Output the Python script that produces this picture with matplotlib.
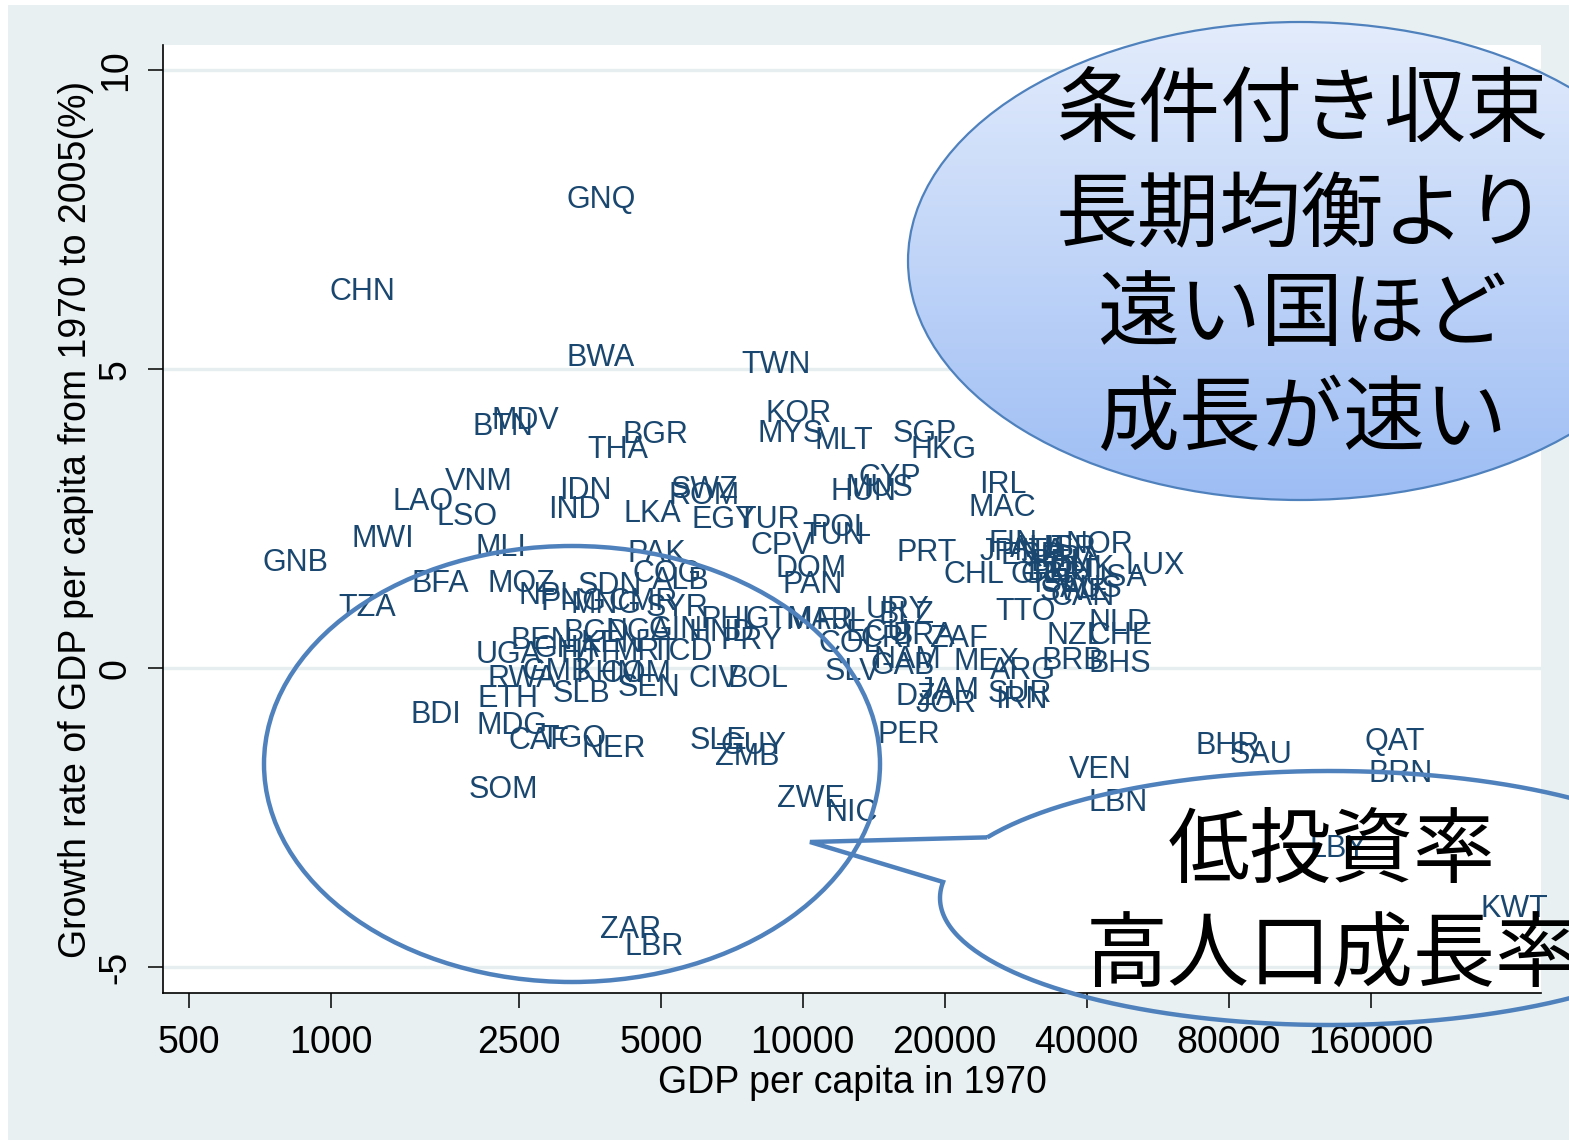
import numpy as np
import matplotlib
matplotlib.use("Agg")
import matplotlib.pyplot as plt
from matplotlib.patches import Ellipse, Rectangle, PathPatch
from matplotlib.path import Path
from matplotlib.colors import LinearSegmentedColormap

# country codes, GDP per capita in 1970, growth rate 1970-2005 (%)
codes = ["GNQ", "CHN", "BWA", "TWN", "KOR", "MYS", "MLT", "SGP", "HKG", "BTN",
         "MDV", "BGR", "THA", "VNM", "LAO", "LSO", "IDN", "IND", "SWZ", "ROM",
         "LKA", "EGY", "TUR", "POL", "TUN", "CPV", "HUN", "MUS", "CYP", "IRL",
         "MAC", "PRT", "MWI", "MLI", "GNB", "PAK", "COG", "ALB", "DOM", "PAN",
         "CHL", "FIN", "JPN", "NOR", "LUX", "USA", "CAN", "TTO", "NLD", "NZL",
         "CHE", "BRB", "BHS", "ARG", "MEX", "SUR", "IRN", "JAM", "DZA", "JOR",
         "PER", "URY", "BLZ", "TZA", "BFA", "MOZ", "NPL", "SDN", "PNG", "MNG",
         "CMR", "SYR", "PHL", "GTM", "MAR", "FJI", "BGD", "NGA", "GIN", "HND",
         "PRY", "BEN", "GHA", "KEN", "MRT", "TCD", "UGA", "HTI", "RWA", "GMB",
         "COM", "SEN", "CIV", "BOL", "SLB", "ETH", "KHM", "COL", "ECU", "CRI",
         "BRA", "ZAF", "SLV", "GAB", "NAM", "LBN", "VEN", "BHR", "SAU", "QAT",
         "BRN", "LBY", "KWT", "BDI", "MDG", "CAF", "TGO", "NER", "SOM", "SLE",
         "GUY", "ZMB", "ZWE", "NIC", "ZAR", "LBR", "AUT", "ESP", "ITA", "BEL",
         "FRA", "DNK", "GBR", "ISL", "AUS", "SWE", "DEU", "GRC", "ISR"]
gdp1970 = [3160, 990, 3160, 7400, 8320, 8000, 10600, 15500, 16900, 1990,
           2184, 4140, 3490, 1745, 1347, 1669, 3044, 2884, 5232, 5181,
           4159, 5797, 7256, 10360, 9965, 7733, 11425, 12295, 13100, 23640,
           22410, 15770, 1102, 2020, 714, 4242, 4347, 4793, 8734, 9038,
           19834, 24710, 23760, 35980, 48230, 39670, 33430, 25560, 40260, 32790,
           40260, 32000, 40260, 24950, 20830, 24710, 25560, 17560, 15690, 17300,
           14370, 13620, 14440, 1035, 1478, 2142, 2491, 3323, 2774, 3211,
           3866, 4631, 6058, 7544, 9171, 10620, 3103, 3810, 4698, 5713,
           6677, 2396, 2681, 3372, 3942, 4744, 2029, 3058, 2142, 2540,
           3717, 4039, 5713, 6911, 2955, 2040, 3291, 10775, 12295, 13230,
           15500, 18610, 11150, 13890, 14090, 40260, 36690, 67880, 80520, 154900,
           157900, 118900, 272800, 1470, 2029, 2372, 2774, 3389, 1952, 5768,
           6677, 6517, 8818, 11150, 3717, 4180, 27500, 26200, 28880, 30330,
           31840, 33430, 28880, 30780, 35110, 31840, 29880, 27500, 32640]
growth = [7.89, 6.35, 5.25, 5.12, 4.31, 3.98, 3.86, 3.98, 3.71, 4.10,
          4.20, 3.95, 3.70, 3.18, 2.84, 2.58, 3.03, 2.71, 3.04, 2.94,
          2.64, 2.54, 2.54, 2.41, 2.27, 2.11, 3.01, 3.08, 3.24, 3.13,
          2.74, 1.99, 2.22, 2.07, 1.81, 1.97, 1.64, 1.52, 1.72, 1.45,
          1.61, 2.14, 2.01, 2.12, 1.76, 1.56, 1.25, 1.00, 0.82, 0.59,
          0.59, 0.18, 0.13, 0.02, 0.17, -0.37, -0.48, -0.33, -0.43, -0.54,
          -1.05, 1.04, 0.95, 1.07, 1.47, 1.47, 1.27, 1.44, 1.17, 1.12,
          1.17, 1.07, 0.87, 0.87, 0.84, 0.84, 0.64, 0.67, 0.70, 0.64,
          0.52, 0.52, 0.38, 0.47, 0.33, 0.33, 0.28, 0.30, -0.12, 0.00,
          -0.03, -0.27, -0.12, -0.12, -0.37, -0.45, -0.03, 0.47, 0.64, 0.55,
          0.59, 0.55, 0.00, 0.10, 0.20, -2.19, -1.64, -1.24, -1.39, -1.17,
          -1.71, -2.96, -3.96, -0.72, -0.90, -1.15, -1.12, -1.29, -1.97, -1.15,
          -1.24, -1.42, -2.12, -2.37, -4.31, -4.60, 2.06, 1.94, 2.01, 1.81,
          1.89, 1.72, 1.61, 1.47, 1.39, 1.34, 1.67, 1.61, 2.06]

xticks = [500, 1000, 2500, 5000, 10000, 20000, 40000, 80000, 160000]
yticks = [-5, 0, 5, 10]
ytick_labels = ["-5", "0", "5", "10"]

top_note = ["条件付き収束", "長期均衡より", "遠い国ほど", "成長が速い"]
bubble_note = ["低投資率", "高人口成長率"]

W, H = 1569, 1143
navy = "#1a476f"
line_blue = "#4f81bd"
bg = "#e8f0f2"
jp = ["Noto Sans CJK JP", "DejaVu Sans"]

fig = plt.figure(figsize=(W / 100, H / 100), dpi=100)
fig.patch.set_facecolor("white")

# light outer background
back = fig.add_axes([0, 0, 1, 1], zorder=0)
back.set_xlim(0, W)
back.set_ylim(H, 0)
back.axis("off")
back.add_patch(Rectangle((8, 5), W - 8, 1135, facecolor=bg, edgecolor="none"))

ax = fig.add_axes([163 / W, 1 - 993 / H, (1541 - 163) / W, (993 - 45) / H], zorder=1)
ax.set_facecolor("white")
ax.set_xscale("log")
ax.set_xlim(440, 367400)
ax.set_ylim(-5.43, 10.42)

for v in yticks:
    ax.axhline(v, color="#e6eef0", lw=2.4, zorder=0)

for c, gx, gy in zip(codes, gdp1970, growth):
    ax.text(gx, gy, c, ha="left", va="center_baseline", fontsize=22, color=navy,
            family="Liberation Sans", zorder=2)

ax.set_xticks(xticks)
ax.set_xticklabels([str(t) for t in xticks], family="Liberation Sans", fontsize=27)
ax.xaxis.set_minor_locator(matplotlib.ticker.NullLocator())
ax.set_yticks(yticks)
ax.set_yticklabels(ytick_labels, rotation=90, va="center", family="Liberation Sans", fontsize=27)
ax.tick_params(axis="both", length=11, width=1.1, color="black", pad=10)
ax.tick_params(axis="x", pad=12)
ax.set_xlabel("GDP per capita in 1970", family="Liberation Sans", fontsize=27, labelpad=3)
ax.set_ylabel("Growth rate of GDP per capita from 1970 to 2005(%)",
              family="Liberation Sans", fontsize=27, labelpad=3)
for s in ["top", "right"]:
    ax.spines[s].set_visible(False)
for s in ["left", "bottom"]:
    ax.spines[s].set_linewidth(1.2)

# annotation layer in pixel coordinates
ov = fig.add_axes([0, 0, 1, 1], zorder=3)
ov.axis("off")

# gradient-filled ellipse, top right
ecx, ecy, ea, eb = 1300, 261, 392, 239
top_ell = Ellipse((ecx, ecy), 2 * ea, 2 * eb, facecolor="none", edgecolor=line_blue, lw=1.6, zorder=2)
ov.add_patch(top_ell)
cmap = LinearSegmentedColormap.from_list("g", ["#e3ecfc", "#9dbdf4"])
grad = np.linspace(0, 1, 256).reshape(-1, 1)
im = ov.imshow(grad, cmap=cmap, extent=[ecx - ea, ecx + ea, ecy + eb, ecy - eb],
               aspect="auto", origin="upper", zorder=1)
im.set_clip_path(top_ell)
for line, yy in zip(top_note, [112, 217, 316, 420]):
    ov.text(1302, yy, line, ha="center", va="center", fontsize=59, family=jp, color="black", zorder=3)

# open ellipse around poor, slow-growing countries
ov.add_patch(Ellipse((572, 764), 616, 436, facecolor="none", edgecolor=line_blue, lw=3.2, zorder=2))

# speech bubble, bottom right
bcx, bcy, ba, bb = 1330, 898, 390, 127
t0 = np.arctan2((838 - bcy) / bb, (991 - bcx) / ba)
t1 = np.arctan2((882 - bcy) / bb, (943 - bcx) / ba) + 2 * np.pi
t = np.linspace(t0, t1, 300)
pts = np.column_stack([bcx + ba * np.cos(t), bcy + bb * np.sin(t)])
pts = np.vstack([pts, [[810, 842], pts[0]]])
ov.add_patch(PathPatch(Path(pts), facecolor="none", edgecolor=line_blue, lw=3.2,
                       joinstyle="miter", zorder=2))
for line, yy in zip(bubble_note, [852, 957]):
    ov.text(1332, yy, line, ha="center", va="center", fontsize=59, family=jp, color="black", zorder=3)

ov.set_xlim(0, W)
ov.set_ylim(H, 0)

fig.savefig("out.png", dpi=100)
